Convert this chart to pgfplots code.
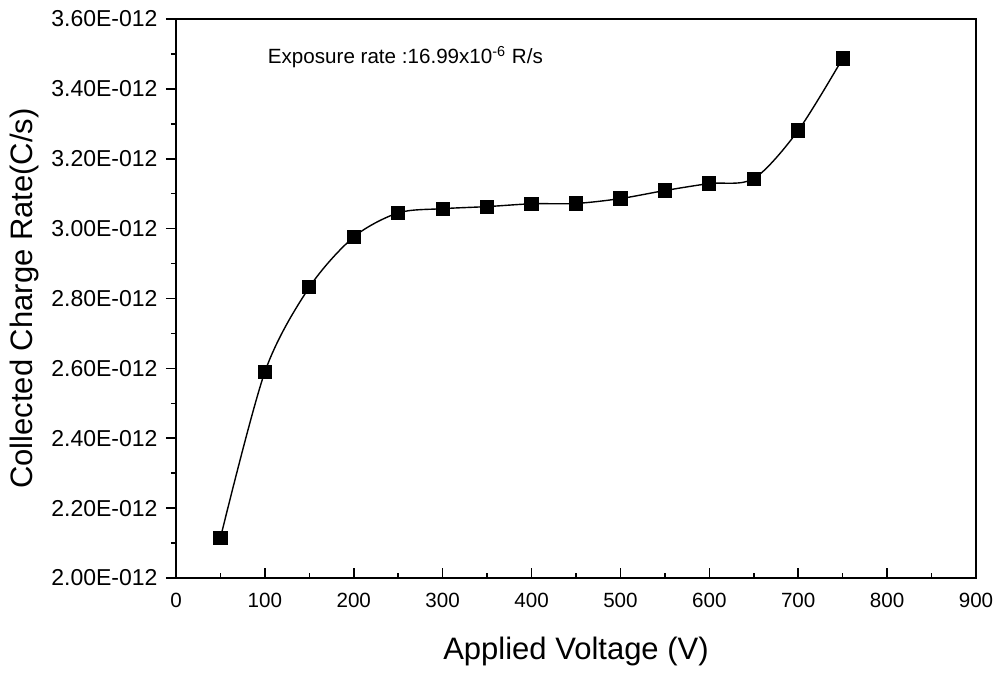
\documentclass[border=0pt]{standalone}
\usepackage{fontspec}
\setmainfont{Liberation Sans}
\usepackage{pgfplots}
\pgfplotsset{compat=1.18}
\begin{document}
\begin{tikzpicture}
\begin{axis}[name=ax, scale only axis, width=400pt, height=279.5pt,
  xmin=0, xmax=900, ymin=2.0, ymax=3.6,
  xtick={0,100,200,300,400,500,600,700,800,900}, minor x tick num=1,
  ytick={2.0,2.2,2.4,2.6,2.8,3.0,3.2,3.4,3.6}, minor y tick num=1,
  yticklabels={2.00E-012,2.20E-012,2.40E-012,2.60E-012,2.80E-012,3.00E-012,3.20E-012,3.40E-012,3.60E-012},
  tick align=inside, xtick pos=left, ytick pos=left,
  major tick length=5pt, minor tick length=2.5pt,
  y tick style={xshift=-5pt},
  minor y tick style={xshift=2.5pt},
  axis line style={line width=1pt},
  tick style={line width=0.8pt, black},
  /pgf/number format/assume math mode=true,
  xticklabel style={font=\fontsize{10.3}{12}\selectfont, yshift=-4pt},
  yticklabel style={font=\fontsize{11.5}{13}\selectfont, xshift=-5.7pt},
  xlabel={Applied Voltage (V)}, ylabel={Collected Charge Rate(C/s)},
  label style={font=\fontsize{15.5}{18}\selectfont},
  xlabel style={at={(axis description cs:0.5,-0.132)}, anchor=center},
  ylabel style={at={(axis description cs:-0.189,0.5)}, anchor=center},
  clip=false,
]
\addplot[black, line width=0.7pt, smooth, mark=square*, mark size=3.2pt, mark options={solid}] coordinates {
(50,2.115) (100,2.590) (150,2.832) (200,2.976) (250,3.045) (300,3.057) (350,3.063)
(400,3.071) (450,3.072) (500,3.086) (550,3.109) (600,3.129) (650,3.143) (700,3.281) (750,3.487)
};
\node[anchor=west, font=\fontsize{10.3}{12}\selectfont, inner sep=0pt] at (axis cs:103,3.49) {Exposure rate :16.99x10\textsuperscript{-6} R/s};
\end{axis}
\path ([xshift=-88pt,yshift=-45.5pt]ax.south west) rectangle ([xshift=12.5pt,yshift=9.5pt]ax.north east);
\end{tikzpicture}
\end{document}
